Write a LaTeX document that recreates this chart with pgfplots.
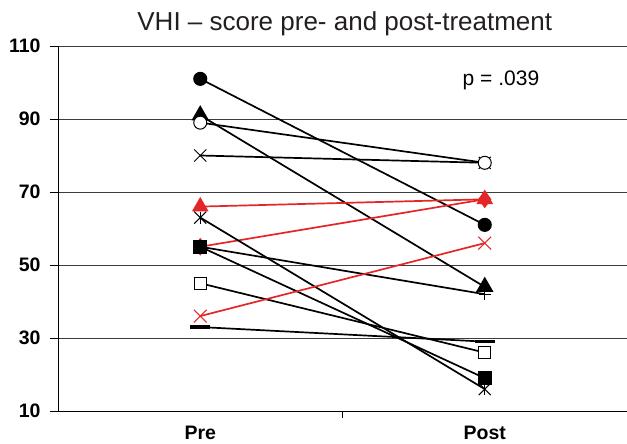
\documentclass[border=0pt]{standalone}
\usepackage{fontspec}
\setmainfont{Liberation Sans}
\usepackage{pgfplots}
\pgfplotsset{compat=1.18}
\definecolor{myred}{RGB}{228,38,38}
\definecolor{gridc}{RGB}{60,60,60}
\definecolor{titlec}{RGB}{35,31,32}
\begin{document}
\begin{tikzpicture}
\begin{axis}[
  at={(0,0)}, anchor=south west,
  scale only axis, width=569pt, height=365pt,
  xmin=0.5, xmax=2.5, ymin=10, ymax=110,
  ytick={10,30,...,110},
  xtick={1,2}, xticklabels={Pre,Post},
  extra x ticks={1.5}, extra x tick labels={},
  extra x tick style={major tick length=7pt, tick align=outside, major x tick style={draw=black, line width=0.9pt}},
  axis x line*=bottom, axis y line*=left,
  axis line style={-, black, line width=0.9pt},
  ymajorgrids, major grid style={gridc, line width=0.9pt},
  major x tick style={draw=none},
  y tick style={black, line width=0.8pt},
  ytick align=outside, major tick length=8pt,
  tick label style={font=\fontsize{19.5}{22}\selectfont\bfseries},
  yticklabel style={xshift=-6pt},
  xticklabel style={yshift=-12pt},
  /pgf/number format/assume math mode=true,
  clip=false,
]
% filled circle
\addplot[black, line width=1.7pt, mark=*, mark size=6.2pt, mark options={solid, fill=black}] coordinates {(1,101) (2,61)};
% plus (hidden at Pre)
\addplot[black, line width=1.7pt, mark=+, mark size=6pt, mark options={solid, line width=1pt}] coordinates {(1,55) (2,42)};
% filled triangle
\addplot[black, line width=1.7pt, mark=triangle*, mark size=8.5pt, mark options={solid, fill=black}] coordinates {(1,91) (2,44)};
% cross
\addplot[black, line width=1.7pt, mark=x, mark size=8.5pt, mark options={solid, line width=1pt}] coordinates {(1,80) (2,78)};
% open circle
\addplot[black, line width=1.7pt, mark=*, mark size=6.5pt, mark options={solid, fill=white, line width=1pt}] coordinates {(1,89) (2,78)};
% red triangle
\addplot[myred, line width=1.7pt, mark=triangle*, mark size=8pt, mark options={solid, fill=myred}] coordinates {(1,66) (2,68)};
% red diamond
\addplot[myred, line width=1.7pt, mark=diamond*, mark size=7.5pt, mark options={solid, fill=myred}] coordinates {(1,55) (2,68)};
% filled square
\addplot[black, line width=1.7pt, mark=square*, mark size=6pt, mark options={solid, fill=black}] coordinates {(1,55) (2,19)};
% asterisk (x plus vertical bar)
\addplot[black, line width=1.7pt, mark=x, mark size=8.5pt, mark options={solid, line width=1pt}] coordinates {(1,63) (2,16)};
\addplot[black, only marks, mark=|, mark size=6pt, mark options={solid, line width=1pt}] coordinates {(1,63) (2,16)};
% open square
\addplot[black, line width=1.7pt, mark=square*, mark size=6pt, mark options={solid, fill=white, line width=1pt}] coordinates {(1,45) (2,26)};
% red cross
\addplot[myred, line width=1.7pt, mark=x, mark size=9pt, mark options={solid, line width=1pt}] coordinates {(1,36) (2,56)};
% dash
\addplot[black, line width=1.7pt, mark=-, mark size=10pt, mark options={solid, line width=3.5pt}] coordinates {(1,33) (2,29)};

\node[font=\fontsize{21}{24}\selectfont] at (axis cs:2.057,100.7) {p = .039};
\node[font=\fontsize{26}{30}\selectfont, text=titlec] at (rel axis cs:0.504,1) [yshift=22pt] {VHI – score pre- and post-treatment};
\end{axis}
\pgfresetboundingbox
\useasboundingbox (-58pt,-33pt) rectangle (569pt,411pt);
\end{tikzpicture}
\end{document}
